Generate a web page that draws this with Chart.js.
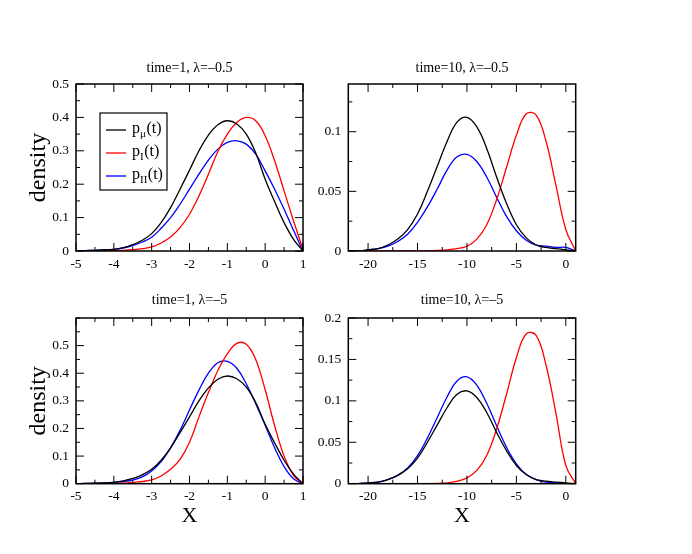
<!DOCTYPE html>
<html>
<head>
<meta charset="utf-8">
<script src="https://cdn.jsdelivr.net/npm/chart.js@4.4.0/dist/chart.umd.min.js"></script>
<style>
  html, body { margin: 0; padding: 0; background: #fff; }
  body { width: 692px; height: 554px; position: relative; overflow: hidden; }
  .panel { position: absolute; }
</style>
</head>
<body>
<div class="panel" style="left:0;top:40px;width:330px;height:250px"><canvas id="tl"></canvas></div>
<div class="panel" style="left:300px;top:40px;width:392px;height:250px"><canvas id="tr"></canvas></div>
<div class="panel" style="left:0;top:290px;width:330px;height:264px"><canvas id="bl"></canvas></div>
<div class="panel" style="left:300px;top:290px;width:392px;height:264px"><canvas id="br"></canvas></div>
<script>
// x grids the curves were read at
const xT1 = [-5, -4.75, -4.5, -4.25, -4, -3.75, -3.5, -3.25, -3, -2.75, -2.5, -2.25, -2,
  -1.75, -1.5, -1.25, -1, -0.75, -0.5, -0.25, 0, 0.25, 0.5, 0.75, 1];
const xT10 = [-22, -21, -20, -19, -18, -17, -16, -15, -14, -13, -12, -11, -10,
  -9, -8, -7, -6, -5, -4, -3, -2, -1, 0, 1];

// time = 1
const pMuT1 = [0, 0.001, 0.002, 0.003, 0.005, 0.010, 0.019, 0.032, 0.052, 0.085, 0.130, 0.185, 0.242,
  0.300, 0.347, 0.378, 0.390, 0.380, 0.350, 0.294, 0.215, 0.148, 0.085, 0.035, 0];
const pIT1L05 = [0, 0, 0, 0.001, 0.001, 0.002, 0.004, 0.007, 0.012, 0.024, 0.042, 0.070, 0.110,
  0.165, 0.230, 0.298, 0.350, 0.385, 0.400, 0.390, 0.345, 0.270, 0.180, 0.090, 0.004];
const pIIT1L05 = [0, 0.001, 0.002, 0.003, 0.005, 0.009, 0.016, 0.027, 0.041, 0.068, 0.100, 0.140, 0.185,
  0.230, 0.272, 0.305, 0.325, 0.330, 0.320, 0.290, 0.240, 0.185, 0.125, 0.062, 0];
const pIT1L5 = [0, 0, 0, 0.001, 0.001, 0.002, 0.005, 0.008, 0.014, 0.028, 0.052, 0.088, 0.150,
  0.242, 0.330, 0.410, 0.470, 0.508, 0.505, 0.450, 0.340, 0.210, 0.100, 0.030, 0];
const pIIT1L5 = [0, 0.001, 0.002, 0.003, 0.005, 0.008, 0.013, 0.025, 0.046, 0.080, 0.130, 0.193, 0.267,
  0.339, 0.400, 0.438, 0.443, 0.418, 0.362, 0.290, 0.212, 0.130, 0.062, 0.018, 0];

// time = 10
const pMuT10 = [0, 0, 0.001, 0.002, 0.005, 0.010, 0.018, 0.031, 0.050, 0.071, 0.092, 0.108, 0.112,
  0.104, 0.086, 0.062, 0.040, 0.022, 0.011, 0.005, 0.003, 0.002, 0.001, 0];
const pIT10L05 = [0, 0, 0, 0, 0, 0, 0, 0, 0.0002, 0.0005, 0.001, 0.002, 0.004,
  0.010, 0.022, 0.043, 0.070, 0.097, 0.115, 0.114, 0.092, 0.055, 0.018, 0];
const pIIT10L05 = [0, 0, 0.001, 0.002, 0.004, 0.008, 0.014, 0.024, 0.037, 0.052, 0.068, 0.079, 0.081,
  0.075, 0.062, 0.045, 0.029, 0.017, 0.009, 0.005, 0.004, 0.003, 0.003, 0];
const pIT10L5 = [0, 0, 0, 0, 0, 0, 0, 0, 0.0001, 0.0003, 0.001, 0.003, 0.007,
  0.016, 0.034, 0.066, 0.108, 0.152, 0.181, 0.179, 0.143, 0.085, 0.022, 0];
const pIIT10L5 = [0, 0, 0.001, 0.002, 0.005, 0.010, 0.019, 0.034, 0.055, 0.080, 0.105, 0.124, 0.129,
  0.119, 0.097, 0.070, 0.044, 0.024, 0.011, 0.005, 0.002, 0.001, 0, 0];

// tick labels
const xTicksT1 = [-5, -4, -3, -2, -1, 0, 1];
const xTicksT10 = [-20, -15, -10, -5, 0];
const yTicksTL = [0, 0.1, 0.2, 0.3, 0.4, 0.5];
const yTicksTR = [0, 0.05, 0.1];
const yTicksBL = [0, 0.1, 0.2, 0.3, 0.4, 0.5];
const yTicksBR = [0, 0.05, 0.1, 0.15, 0.2];

const titles = ['time=1, λ=–0.5', 'time=10, λ=–0.5', 'time=1, λ=–5', 'time=10, λ=–5'];
const seriesNames = [['p', 'μ', '(t)'], ['p', 'I', '(t)'], ['p', 'II', '(t)']];
const seriesColors = ['#000000', '#ff0000', '#0000ff'];

const FONT = '"Liberation Serif", "DejaVu Serif", serif';

// Inward ticks on all four sides plus the frame
const frameTicks = {
  id: 'frameTicks',
  afterDatasetsDraw(chart, args, opts) {
    const { ctx, chartArea: a, scales: { x, y } } = chart;
    ctx.save();
    ctx.strokeStyle = '#000';
    ctx.lineWidth = 1;
    ctx.beginPath();
    const marks = (scale, step, cb) => {
      const majors = scale.ticks.map(t => t.value);
      const n0 = Math.ceil(scale.min / step - 1e-9);
      const n1 = Math.floor(scale.max / step + 1e-9);
      for (let n = n0; n <= n1; n++) {
        const v = n * step;
        const isMajor = majors.some(m => Math.abs(m - v) < 1e-9);
        cb(scale.getPixelForValue(v), isMajor ? 8 : 4);
      }
    };
    marks(x, opts.minorX, (px, len) => {
      ctx.moveTo(px, a.bottom); ctx.lineTo(px, a.bottom - len);
      ctx.moveTo(px, a.top); ctx.lineTo(px, a.top + len);
    });
    marks(y, opts.minorY, (py, len) => {
      ctx.moveTo(a.left, py); ctx.lineTo(a.left + len, py);
      ctx.moveTo(a.right, py); ctx.lineTo(a.right - len, py);
    });
    ctx.stroke();
    ctx.lineWidth = 1.5;
    ctx.strokeRect(a.left, a.top, a.width, a.height);
    ctx.restore();
  }
};

// Boxed legend with subscripts (only top-left panel)
const seriesKey = {
  id: 'seriesKey',
  afterDraw(chart, args, opts) {
    if (!opts.show) return;
    const { ctx, chartArea: a } = chart;
    const bx = a.left + 24, by = a.top + 29, bw = 67, bh = 77;
    ctx.save();
    ctx.fillStyle = '#fff';
    ctx.fillRect(bx, by, bw, bh);
    ctx.strokeStyle = '#000';
    ctx.lineWidth = 1.2;
    ctx.strokeRect(bx, by, bw, bh);
    chart.data.datasets.forEach((ds, i) => {
      const ry = by + 17 + i * 23;
      ctx.strokeStyle = ds.borderColor;
      ctx.lineWidth = 1.3;
      ctx.beginPath();
      ctx.moveTo(bx + 6, ry);
      ctx.lineTo(bx + 26, ry);
      ctx.stroke();
      const [base, sub, tail] = ds.labelParts;
      ctx.fillStyle = '#000';
      ctx.textBaseline = 'middle';
      ctx.textAlign = 'left';
      let tx = bx + 32;
      ctx.font = '16px ' + FONT;
      ctx.fillText(base, tx, ry - 1);
      tx += ctx.measureText(base).width;
      ctx.font = '11px ' + FONT;
      ctx.fillText(sub, tx, ry + 4);
      tx += ctx.measureText(sub).width + 0.5;
      ctx.font = '16px ' + FONT;
      ctx.fillText(tail, tx, ry - 1);
    });
    ctx.restore();
  }
};

function makePanel(id, cfg) {
  const datasets = cfg.series.map((ys, i) => ({
    label: seriesNames[i].join(''),
    labelParts: seriesNames[i],
    data: ys.map((v, k) => ({ x: cfg.xs[k], y: v })),
    borderColor: seriesColors[i],
    borderWidth: 1.3,
    pointRadius: 0,
    fill: false,
    tension: 0.4
  }));
  return new Chart(document.getElementById(id), {
    type: 'line',
    data: { datasets },
    options: {
      responsive: true,
      maintainAspectRatio: false,
      animation: false,
      events: [],
      layout: { padding: { left: 0, top: 0, bottom: 0, right: cfg.padRight } },
      plugins: {
        legend: { display: false },
        tooltip: { enabled: false },
        title: {
          display: true,
          text: cfg.title,
          fullSize: false,
          color: '#000',
          font: { family: FONT, size: 14, weight: 'normal', lineHeight: 1.2 },
          padding: { top: cfg.titleTop, bottom: cfg.titleBottom }
        },
        frameTicks: { minorX: cfg.minorX, minorY: cfg.minorY },
        seriesKey: { show: !!cfg.key }
      },
      scales: {
        x: {
          type: 'linear',
          min: cfg.xMin, max: cfg.xMax,
          grid: { display: false, drawTicks: false },
          border: { display: false },
          afterBuildTicks: s => { s.ticks = cfg.xTicks.map(v => ({ value: v })); },
          afterFit: s => { s.height = cfg.xHeight; },
          ticks: {
            color: '#000', padding: 5, autoSkip: false, maxRotation: 0,
            font: { family: FONT, size: 13.5 },
            callback: v => String(v)
          },
          title: {
            display: !!cfg.xTitle,
            text: 'X',
            color: '#000',
            font: { family: FONT, size: 22, lineHeight: 1 },
            padding: { top: 0, bottom: 26.5 }
          }
        },
        y: {
          type: 'linear',
          min: 0, max: cfg.yMax,
          grid: { display: false, drawTicks: false },
          border: { display: false },
          afterBuildTicks: s => { s.ticks = cfg.yTicks.map(v => ({ value: v })); },
          afterFit: s => { s.width = cfg.yWidth; },
          ticks: {
            color: '#000', padding: 7, autoSkip: false,
            font: { family: FONT, size: 13.5 },
            callback: v => String(v)
          },
          title: {
            display: !!cfg.yTitle,
            text: 'density',
            color: '#000',
            font: { family: FONT, size: 24, lineHeight: 1 },
            padding: { top: 27, bottom: 0 }
          }
        }
      }
    },
    plugins: [frameTicks, seriesKey]
  });
}

makePanel('tl', {
  title: titles[0], xs: xT1, series: [pMuT1, pIT1L05, pIIT1L05],
  xMin: -5, xMax: 1, yMax: 0.5, xTicks: xTicksT1, yTicks: yTicksTL,
  minorX: 0.5, minorY: 0.05, yWidth: 76, xHeight: 39, padRight: 27,
  titleTop: 19.6, titleBottom: 7.6, yTitle: true, key: true
});
makePanel('tr', {
  title: titles[1], xs: xT10, series: [pMuT10, pIT10L05, pIIT10L05],
  xMin: -22, xMax: 1, yMax: 0.14, xTicks: xTicksT10, yTicks: yTicksTR,
  minorX: 2.5, minorY: 0.025, yWidth: 48.3, xHeight: 39, padRight: 116.3,
  titleTop: 19.6, titleBottom: 7.6
});
makePanel('bl', {
  title: titles[2], xs: xT1, series: [pMuT1, pIT1L5, pIIT1L5],
  xMin: -5, xMax: 1, yMax: 0.6, xTicks: xTicksT1, yTicks: yTicksBL,
  minorX: 0.5, minorY: 0.05, yWidth: 76, xHeight: 70.3, padRight: 27,
  titleTop: 2.3, titleBottom: 8.9, yTitle: true, xTitle: true
});
makePanel('br', {
  title: titles[3], xs: xT10, series: [pMuT10, pIT10L5, pIIT10L5],
  xMin: -22, xMax: 1, yMax: 0.2, xTicks: xTicksT10, yTicks: yTicksBR,
  minorX: 2.5, minorY: 0.025, yWidth: 48.3, xHeight: 70.3, padRight: 116.3,
  titleTop: 2.3, titleBottom: 8.9, xTitle: true
});
</script>
</body>
</html>
